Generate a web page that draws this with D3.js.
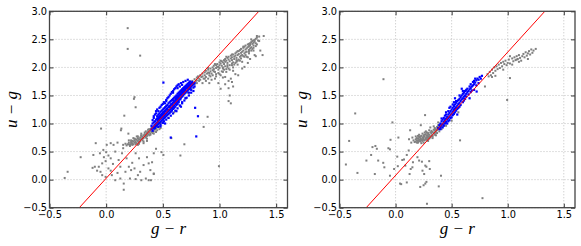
<!DOCTYPE html>
<html><head><meta charset="utf-8">
<script src="https://cdn.jsdelivr.net/npm/d3@7"></script>
<style>body{margin:0;background:#fff}svg{display:block}</style>
</head><body>
<script>
const xTicks = [-0.5, 0.0, 0.5, 1.0, 1.5];
const yTicks = [-0.5, 0.0, 0.5, 1.0, 1.5, 2.0, 2.5, 3.0];
const xDomain = [-0.5, 1.6];
const yDomain = [-0.5, 3.0];
const xLabel = "g − r";
const yLabel = "u − g";

const grayLeft = [
[0.19,0.63],[0.2,0.66],[0.21,0.62],[0.22,0.67],[0.22,0.64],[0.23,0.69],[0.23,0.65],[0.24,0.63],[0.24,0.68],[0.25,0.70],[0.25,0.66],[0.26,0.72],[0.26,0.68],[0.27,0.65],[0.27,0.71],[0.28,0.74],[0.28,0.69],[0.29,0.72],[0.29,0.67],[0.30,0.75],[0.30,0.71],[0.31,0.73],[0.31,0.78],[0.32,0.70],[0.32,0.76],[0.33,0.79],[0.33,0.74],[0.34,0.77],[0.34,0.81],[0.35,0.75],[0.35,0.80],[0.36,0.83],[0.36,0.78],[0.37,0.81],[0.37,0.86],[0.38,0.79],[0.38,0.84],[0.39,0.87],[0.39,0.82],[0.40,0.85],[0.40,0.90],[0.41,0.83],[0.41,0.88],[0.42,0.92],[0.42,0.86],[0.43,0.89],[0.43,0.95],[0.44,0.91],[0.45,0.97],[0.45,0.93],[0.46,0.99],[0.47,0.95],[0.48,1.01],[0.21,0.60],[0.26,0.63],[0.29,0.64],[0.33,0.68],[0.36,0.73],[0.18,0.61],[0.15,0.62],[0.24,0.74],[0.31,0.82],[0.35,0.86],[0.38,0.90],[0.27,0.77],[0.20,0.70],[0.44,0.85],[0.47,0.90],
[0.22,0.70],[0.25,0.73],[0.28,0.77],[0.31,0.79],[0.34,0.84],[0.37,0.89],[0.40,0.93],[0.43,0.98],[0.46,1.02],[0.2,0.63],[0.23,0.62],[0.26,0.66],[0.3,0.68],[0.32,0.73],[0.35,0.77],[0.39,0.8],[0.42,0.82],[0.45,0.88],[0.48,0.92],[0.17,0.64],[0.28,0.62],[0.36,0.69],
[0.5,1.02],[0.55,1.1],[0.6,1.2],[0.65,1.32],[0.7,1.45],[0.72,1.55],[0.75,1.62],[0.78,1.70],[0.80,1.72],[0.82,1.76],
[0.74,1.74],[0.76,1.76],[0.77,1.72],[0.78,1.79],[0.79,1.75],[0.80,1.82],[0.80,1.77],[0.81,1.84],[0.82,1.80],[0.83,1.86],[0.83,1.78],[0.84,1.83],[0.85,1.89],[0.85,1.84],[0.86,1.80],[0.87,1.91],[0.87,1.86],[0.88,1.83],[0.88,1.94],[0.89,1.89],[0.90,1.96],[0.90,1.91],[0.91,1.86],[0.92,1.98],[0.92,1.93],[0.93,1.89],[0.94,2.00],[0.94,1.95],[0.95,2.03],[0.95,1.97],[0.96,1.92],[0.97,2.04],[0.97,1.99],[0.98,2.06],[0.98,2.01],[0.99,1.96],[1.00,2.09],[1.00,2.04],[1.00,1.99],[1.01,2.07],[1.02,2.11],[1.02,2.03],[1.03,2.09],[1.03,1.98],[1.04,2.13],[1.04,2.06],[1.05,2.15],[1.05,2.10],[1.05,2.02],[1.06,2.12],[1.07,2.17],[1.07,2.08],[1.08,2.14],[1.08,2.19],[1.09,2.11],[1.09,2.04],[1.10,2.16],[1.10,2.21],[1.11,2.13],[1.11,2.18],[1.12,2.23],[1.12,2.09],[1.13,2.19],[1.13,2.15],[1.14,2.25],[1.14,2.21],[1.15,2.17],[1.15,2.27],[1.16,2.22],[1.16,2.12],[1.17,2.29],[1.17,2.24],[1.18,2.19],[1.18,2.31],[1.19,2.26],[1.19,2.33],[1.20,2.28],[1.20,2.22],[1.21,2.35],[1.21,2.30],[1.22,2.25],[1.22,2.37],[1.23,2.32],[1.23,2.39],[1.24,2.34],[1.24,2.28],[1.25,2.41],[1.25,2.36],[1.26,2.38],[1.26,2.31],[1.27,2.43],[1.27,2.40],[1.28,2.45],[1.28,2.36],[1.29,2.42],[1.29,2.47],[1.30,2.44],[1.30,2.39],[1.31,2.49],[1.31,2.46],[1.32,2.51],[1.32,2.43],[1.33,2.53],[1.34,2.48],[1.33,2.41],[1.35,2.47],[1.29,2.33],[1.26,2.25],[1.22,2.19],[1.18,2.12],[1.13,2.05],[1.08,1.98],[1.02,1.93],[0.97,1.88],
[0.85,1.72],[0.88,1.76],[0.9,1.80],[0.92,1.84],[0.94,1.86],[0.97,1.84],[0.99,1.90],[1.01,1.86],[1.03,1.92],[1.04,1.96],[1.06,1.97],[1.07,2.01],[1.09,1.96],[1.11,2.04],[1.12,1.94],[1.14,2.08],[1.15,2.1],[1.17,2.14],[1.19,2.16],[1.21,2.2],[1.23,2.22],[1.24,2.19],[1.26,2.28],[1.28,2.3],[1.3,2.35],[1.32,2.38],[1.27,2.34],[1.23,2.27],[1.19,2.21],[1.15,2.13],[1.11,2.07],[1.07,2.04],[1.03,2.0],[0.99,2.01],[0.95,1.93],[0.91,1.90],[0.87,1.80],
[0.9,1.99],[0.96,2.06],[1.01,2.12],[1.06,2.19],[1.11,2.23],[1.16,2.29],[1.21,2.37],[1.26,2.42],[1.3,2.48],[1.33,2.56],[1.28,2.5],
[1.0,1.88],[1.03,1.82],[0.96,1.80],[1.06,1.92],[1.12,2.00],[1.16,2.05],[1.2,2.10],[1.25,2.18],[1.3,2.30],[1.32,2.2],[1.38,2.22],[1.08,1.76],[1.05,1.70],[1.10,1.80],[1.14,1.88],[1.2,1.98],[0.99,1.72],[1.01,1.62],[1.12,1.66],[1.09,1.50],[1.08,1.40],[1.10,1.36],[1.08,1.63],[1.11,1.74],[1.05,1.83],[1.165,1.86],[1.22,2.01],[0.93,1.78],[0.91,1.72],[1.25,2.08],[1.27,2.15],[1.36,2.3],[1.39,2.56],[1.31,2.22],[1.35,2.55],
[0.19,2.70],[0.19,2.33],[0.30,2.21],[0.25,1.47],[0.245,1.44],[0.26,1.29],[0.16,1.14],[-0.045,0.91],[0.134,0.91],[0.196,0.82],[0.13,0.88],[-0.092,0.65],[0.04,0.65],[0.10,0.66],[-0.225,0.40],[-0.34,0.14],[-0.366,0.03],[-0.113,0.44],[0.0,0.49],[0.02,0.43],[0.04,0.38],[-0.005,0.33],[-0.035,0.29],[-0.065,0.23],[-0.08,0.16],[-0.12,0.21],[-0.05,0.14],[0.02,0.20],[0.05,0.08],[-0.005,0.05],[0.08,-0.01],[0.125,0.02],[0.155,-0.07],[0.155,-0.18],[0.20,0.23],[0.22,0.17],[0.18,0.38],[0.26,0.47],[0.29,0.38],[0.25,0.20],[0.30,0.14],[0.33,0.26],[0.375,0.29],[0.39,0.17],[0.375,-0.01],[0.35,0.02],[0.21,0.02],[0.26,0.01],[0.31,-0.01],[0.42,0.10],[0.42,0.47],[0.33,0.65],[0.11,0.35],[0.08,0.50],[0.14,0.47],[0.065,0.62],[0.005,0.62],[-0.025,0.53],[-0.055,0.47],[0.17,0.14],[0.125,0.23],[-0.035,0.08],[-0.10,0.23],[0.488,0.49],[0.505,0.44],[0.405,0.31],[0.42,0.11],[0.395,-0.01],[0.69,0.63],[0.655,0.43],[0.575,0.74],[0.995,0.24],[0.895,1.12],[0.86,0.94],[0.06,0.28],[0.1,0.12],[0.23,0.3],[0.28,0.08],[0.36,0.4],[0.44,0.55],[0.15,0.56],[-0.02,0.4],[0.04,0.16]
];

const blueLeft = [
[0.40,0.90],[0.40,0.96],[0.41,0.93],[0.41,1.00],[0.41,0.87],[0.42,0.95],[0.42,1.02],[0.42,0.91],[0.43,0.97],[0.43,1.04],[0.43,0.92],[0.44,1.00],[0.44,1.07],[0.44,0.95],[0.45,1.02],[0.45,1.09],[0.45,0.97],[0.45,1.13],[0.46,1.04],[0.46,1.11],[0.46,0.99],[0.46,1.16],[0.47,1.06],[0.47,1.13],[0.47,1.01],[0.47,1.18],[0.48,1.08],[0.48,1.15],[0.48,1.03],[0.48,1.21],[0.48,1.12],[0.49,1.10],[0.49,1.17],[0.49,1.05],[0.49,1.23],[0.50,1.12],[0.50,1.19],[0.50,1.07],[0.50,1.25],[0.50,1.15],[0.51,1.14],[0.51,1.21],[0.51,1.09],[0.51,1.27],[0.52,1.16],[0.52,1.23],[0.52,1.11],[0.52,1.29],[0.53,1.18],[0.53,1.25],[0.53,1.13],[0.53,1.31],[0.54,1.20],[0.54,1.27],[0.54,1.15],[0.54,1.33],[0.55,1.22],[0.55,1.29],[0.55,1.17],[0.55,1.36],[0.56,1.24],[0.56,1.31],[0.56,1.19],[0.56,1.38],[0.57,1.26],[0.57,1.33],[0.57,1.21],[0.57,1.40],[0.58,1.28],[0.58,1.35],[0.58,1.42],[0.58,1.23],[0.59,1.30],[0.59,1.37],[0.59,1.44],[0.59,1.26],[0.60,1.32],[0.60,1.39],[0.60,1.46],[0.60,1.28],[0.61,1.35],[0.61,1.42],[0.61,1.48],[0.61,1.30],[0.62,1.37],[0.62,1.44],[0.62,1.50],[0.62,1.33],[0.63,1.39],[0.63,1.46],[0.63,1.53],[0.63,1.35],[0.64,1.41],[0.64,1.48],[0.64,1.55],[0.64,1.38],[0.65,1.44],[0.65,1.50],[0.65,1.57],[0.66,1.46],[0.66,1.52],[0.66,1.59],[0.67,1.48],[0.67,1.55],[0.67,1.61],[0.68,1.50],[0.68,1.57],[0.68,1.63],[0.69,1.53],[0.69,1.59],[0.69,1.65],[0.70,1.55],[0.70,1.61],[0.70,1.67],[0.71,1.57],[0.71,1.63],[0.71,1.69],[0.72,1.59],[0.72,1.65],[0.72,1.71],[0.73,1.61],[0.73,1.67],[0.73,1.73],[0.74,1.63],[0.74,1.69],[0.74,1.75],[0.75,1.66],[0.75,1.71],[0.76,1.68],[0.76,1.74],[0.77,1.70],[0.77,1.64],[0.78,1.72],[0.78,1.66],
[0.41,1.06],[0.42,1.13],[0.43,1.16],[0.44,1.22],[0.45,1.25],[0.46,1.22],[0.47,1.28],[0.48,1.30],[0.49,1.33],[0.50,1.35],[0.51,1.38],[0.52,1.36],[0.53,1.42],[0.54,1.45],[0.55,1.47],[0.56,1.50],[0.57,1.53],[0.58,1.56],[0.59,1.58],[0.60,1.61],[0.61,1.63],[0.62,1.66],[0.63,1.68],[0.64,1.70],[0.65,1.66],[0.66,1.72],[0.67,1.69],[0.68,1.74],[0.70,1.76],[0.72,1.78],
[0.46,0.94],[0.48,0.98],[0.50,1.01],[0.51,1.04],[0.53,1.07],[0.55,1.10],[0.57,1.14],[0.59,1.18],[0.61,1.23],[0.63,1.27],[0.65,1.32],[0.67,1.36],[0.69,1.41],[0.71,1.46],[0.73,1.55],[0.75,1.60],[0.77,1.58],
[0.455,1.06],[0.465,1.08],[0.475,1.10],[0.485,1.14],[0.495,1.16],[0.505,1.20],[0.515,1.18],[0.525,1.22],[0.535,1.26],[0.545,1.24],[0.555,1.30],[0.565,1.29],[0.575,1.35],[0.585,1.33],[0.595,1.40],[0.605,1.37],[0.615,1.45],[0.625,1.41],[0.635,1.49],[0.645,1.45],[0.655,1.54],[0.665,1.49],[0.675,1.58],[0.685,1.54],[0.695,1.62],[0.705,1.58],[0.715,1.66],[0.725,1.62],[0.735,1.70],[0.745,1.66],
[0.615,1.40],[0.625,1.47],[0.645,1.52],[0.655,1.43],[0.675,1.52],[0.685,1.60],[0.695,1.56],[0.705,1.64],[0.725,1.68],[0.735,1.64],[0.755,1.72],[0.635,1.43],[0.665,1.56],
[0.505,1.73],[0.57,0.75],[0.795,0.77],[0.81,1.13],[0.785,1.28],[0.44,1.18],[0.42,1.10],[0.62,1.22],[0.66,1.30],[0.70,1.45],[0.53,1.40],[0.59,1.55],[0.63,1.63],[0.75,1.55],[0.73,1.50],[0.67,1.38],[0.48,0.95],[0.52,1.00]
];

const grayRight = [
[0.14,0.66],[0.16,0.70],[0.17,0.67],[0.18,0.72],[0.18,0.68],[0.19,0.74],[0.19,0.70],[0.20,0.66],[0.20,0.73],[0.21,0.76],[0.21,0.71],[0.22,0.68],[0.22,0.74],[0.23,0.78],[0.23,0.72],[0.24,0.69],[0.24,0.75],[0.25,0.79],[0.25,0.73],[0.26,0.70],[0.26,0.77],[0.27,0.81],[0.27,0.74],[0.28,0.71],[0.28,0.78],[0.29,0.83],[0.29,0.76],[0.30,0.73],[0.30,0.80],[0.31,0.84],[0.31,0.77],[0.32,0.82],[0.32,0.87],[0.33,0.79],[0.33,0.85],[0.34,0.89],[0.34,0.83],[0.35,0.87],[0.35,0.92],[0.36,0.85],[0.36,0.90],[0.37,0.94],[0.37,0.88],[0.38,0.92],[0.38,0.97],[0.39,0.90],[0.39,0.95],[0.40,0.99],[0.41,0.94],[0.42,1.00],[0.43,0.97],[0.21,0.80],[0.24,0.82],[0.27,0.86],[0.30,0.88],[0.18,0.77],[0.25,0.66],[0.29,0.69],[0.33,0.74],[0.36,0.79],[0.12,0.72],[0.15,0.75],[0.34,0.95],[0.31,0.93],[0.38,1.02],[0.26,0.84],[0.23,0.65],[0.20,0.78],[0.28,0.75],[0.32,0.78],[0.35,0.82],[0.22,0.71],[0.25,0.76],[0.30,0.77],
[0.19,0.66],[0.21,0.69],[0.23,0.70],[0.25,0.71],[0.27,0.72],[0.29,0.74],[0.31,0.75],[0.33,0.77],[0.35,0.80],[0.37,0.83],[0.39,0.86],[0.41,0.90],[0.22,0.77],[0.26,0.80],[0.29,0.80],[0.32,0.85],[0.35,0.89],[0.28,0.84],[0.24,0.72],[0.20,0.69],
[0.82,1.88],[0.84,1.92],[0.85,1.86],[0.86,1.96],[0.87,1.90],[0.88,2.00],[0.89,1.94],[0.89,1.85],[0.90,2.02],[0.91,1.97],[0.92,2.05],[0.93,1.99],[0.94,2.08],[0.95,2.02],[0.96,2.10],[0.97,2.06],[0.98,2.12],[0.99,2.04],[1.00,2.08],[1.01,2.14],[1.02,2.07],[1.04,2.16],[1.05,2.11],[1.06,2.18],[1.07,2.13],[1.08,2.20],[1.09,2.15],[1.10,2.22],[1.11,2.17],[1.12,2.12],[1.13,2.20],[1.14,2.24],[1.15,2.18],[1.16,2.27],[1.17,2.21],[1.18,2.15],[1.19,2.29],[1.20,2.23],[1.21,2.32],[1.22,2.26],[1.23,2.30],[1.25,2.33],[1.18,2.25],[1.10,2.10],[1.04,2.05],[0.96,1.96],[0.86,1.83],[0.83,1.84],[1.02,2.20],[1.08,2.14],
[-0.108,1.79],[-0.36,1.18],[-0.028,1.02],[0.025,0.75],[0.13,0.88],[0.225,0.97],[0.263,1.15],[-0.414,0.69],[-0.443,0.27],[-0.34,0.12],[-0.26,0.34],[-0.218,0.44],[-0.206,0.58],[-0.18,0.60],[-0.167,0.55],[-0.185,0.10],[-0.155,0.34],[-0.11,0.30],[-0.10,0.22],[-0.064,0.56],[-0.045,0.71],[-0.05,0.54],[-0.013,0.19],[0.02,0.24],[0.04,-0.07],[0.05,-0.08],[0.06,0.35],[0.075,0.36],[0.10,0.44],[0.117,0.52],[0.087,0.25],[0.135,0.19],[0.15,0.22],[0.125,0.10],[0.155,0.31],[0.195,0.40],[0.21,0.34],[0.235,0.32],[0.265,0.25],[0.24,0.16],[0.255,0.10],[0.275,0.23],[0.30,0.33],[0.305,0.19],[0.275,-0.04],[0.265,-0.07],[0.25,-0.10],[0.22,-0.13],[0.28,-0.43],[0.385,-0.12],[0.405,0.07],[0.10,-0.05],[-0.05,0.07],[0.015,0.41],[0.575,0.70],[0.775,-0.33],[0.797,1.66],[0.995,1.42],[1.02,1.81],[0.45,0.96],[0.5,1.05],[0.56,1.2]
];

const blueRight = [
[0.38,0.92],[0.39,0.97],[0.39,0.90],[0.40,1.00],[0.40,0.94],[0.41,1.04],[0.41,0.97],[0.42,0.99],[0.42,1.07],[0.42,0.93],[0.43,1.03],[0.43,1.10],[0.44,1.00],[0.44,1.06],[0.44,1.14],[0.45,1.03],[0.45,1.09],[0.45,1.16],[0.46,1.07],[0.46,1.12],[0.46,1.00],[0.47,1.10],[0.47,1.16],[0.47,1.22],[0.48,1.12],[0.48,1.19],[0.48,1.06],[0.49,1.15],[0.49,1.22],[0.50,1.18],[0.50,1.25],[0.50,1.11],[0.51,1.21],[0.51,1.28],[0.52,1.24],[0.52,1.31],[0.52,1.17],[0.53,1.27],[0.53,1.34],[0.54,1.29],[0.54,1.37],[0.54,1.23],[0.55,1.32],[0.55,1.40],[0.56,1.35],[0.56,1.42],[0.56,1.28],[0.57,1.37],[0.57,1.44],[0.58,1.40],[0.58,1.47],[0.58,1.33],[0.59,1.43],[0.59,1.50],[0.60,1.45],[0.60,1.53],[0.60,1.38],[0.61,1.48],[0.61,1.55],[0.62,1.50],[0.62,1.58],[0.62,1.44],[0.63,1.53],[0.63,1.60],[0.64,1.56],[0.64,1.62],[0.65,1.58],[0.65,1.52],[0.66,1.61],[0.66,1.66],[0.67,1.63],[0.67,1.70],[0.68,1.66],[0.68,1.59],[0.69,1.68],[0.70,1.70],[0.70,1.76],[0.71,1.73],[0.72,1.77],[0.72,1.68],[0.73,1.80],[0.74,1.78],[0.75,1.83],[0.76,1.80],[0.77,1.85],[0.66,1.45],[0.70,1.60],[0.723,1.57],[0.55,1.16],[0.48,1.28],[0.53,1.45],[0.59,1.62],
[0.40,0.90],[0.41,1.09],[0.43,0.96],[0.45,1.20],[0.47,1.04],[0.49,1.10],[0.51,1.15],[0.53,1.20],[0.55,1.26],[0.57,1.30],[0.49,1.30],[0.51,1.34],[0.54,1.40],[0.57,1.50],[0.60,1.58],[0.63,1.48],[0.67,1.56],[0.69,1.74],[0.71,1.80],[0.74,1.72],[0.61,1.41],[0.52,1.38]
];

const redLineLeft = [[-0.237,-0.5],[1.347,3.0]];
const redLineRight = [[-0.262,-0.5],[1.331,3.0]];

const W = 581, H = 246;
const svg = d3.select("body").append("svg").attr("width", W).attr("height", H);

const panels = [
  {x0: 49.5, x1: 287.5, gray: grayLeft, blue: blueLeft, line: redLineLeft},
  {x0: 339.5, x1: 575, gray: grayRight, blue: blueRight, line: redLineRight}
];
const plotTop = 11.3, plotBottom = 207.7;
const fmt = d3.format(".1f");

panels.forEach((p, i) => {
  const x = d3.scaleLinear().domain(xDomain).range([p.x0, p.x1]);
  const y = d3.scaleLinear().domain(yDomain).range([plotBottom, plotTop]);
  const g = svg.append("g");
  const clipId = "clip" + i;
  svg.append("clipPath").attr("id", clipId).append("rect")
    .attr("x", p.x0).attr("y", plotTop).attr("width", p.x1 - p.x0).attr("height", plotBottom - plotTop);

  const grid = g.append("g").attr("stroke", "#b0b0b0").attr("stroke-width", 0.8).attr("stroke-dasharray", "1,2");
  grid.selectAll(".gx").data(xTicks).join("line")
    .attr("x1", d => x(d)).attr("x2", d => x(d)).attr("y1", plotTop).attr("y2", plotBottom);
  grid.selectAll(".gy").data(yTicks).join("line")
    .attr("x1", p.x0).attr("x2", p.x1).attr("y1", d => y(d)).attr("y2", d => y(d));

  const pts = g.append("g").attr("clip-path", `url(#${clipId})`);
  pts.selectAll(".gp").data(p.gray).join("rect")
    .attr("x", d => x(d[0]) - 1).attr("y", d => y(d[1]) - 1)
    .attr("width", 2).attr("height", 2).attr("fill", "#808080");
  pts.selectAll(".bp").data(p.blue).join("rect")
    .attr("x", d => x(d[0]) - 1.1).attr("y", d => y(d[1]) - 1.1)
    .attr("width", 2.2).attr("height", 2.2).attr("fill", "#0000ff");

  pts.append("path").datum(p.line)
    .attr("d", d3.line().x(d => x(d[0])).y(d => y(d[1])))
    .attr("fill", "none").attr("stroke", "#ff0000").attr("stroke-width", 1);

  g.append("g").attr("transform", `translate(0,${plotBottom})`)
    .call(d3.axisBottom(x).tickValues(xTicks).tickFormat(fmt).tickSizeInner(-4).tickSizeOuter(0).tickPadding(3));
  g.append("g").attr("transform", `translate(${p.x0},0)`)
    .call(d3.axisLeft(y).tickValues(yTicks).tickFormat(fmt).tickSizeInner(-4).tickSizeOuter(0).tickPadding(2.5));
  g.append("g").attr("transform", `translate(0,${plotTop})`)
    .call(d3.axisTop(x).tickValues(xTicks).tickFormat("").tickSizeInner(-4).tickSizeOuter(0));
  g.append("g").attr("transform", `translate(${p.x1},0)`)
    .call(d3.axisRight(y).tickValues(yTicks).tickFormat("").tickSizeInner(-4).tickSizeOuter(0));
  g.selectAll(".domain").remove();
  g.selectAll(".tick line").attr("stroke", "#000").attr("stroke-width", 0.8);
  g.selectAll(".tick text").attr("font-family", "DejaVu Sans").attr("font-size", 9.8).attr("fill", "#000");

  g.append("rect").attr("x", p.x0).attr("y", plotTop).attr("width", p.x1 - p.x0).attr("height", plotBottom - plotTop)
    .attr("fill", "none").attr("stroke", "#444").attr("stroke-width", 1.3);

  const cx = (p.x0 + p.x1) / 2;
  g.append("text").attr("x", cx).attr("y", 234)
    .attr("text-anchor", "middle").attr("font-family", "Liberation Serif").attr("font-style", "italic")
    .attr("font-size", 17).text(xLabel);
  g.append("text").attr("transform", `translate(${p.x0 - 33},${(plotTop + plotBottom) / 2}) rotate(-90)`)
    .attr("text-anchor", "middle").attr("font-family", "Liberation Serif").attr("font-style", "italic")
    .attr("font-size", 17).text(yLabel);
});
</script>
</body></html>
